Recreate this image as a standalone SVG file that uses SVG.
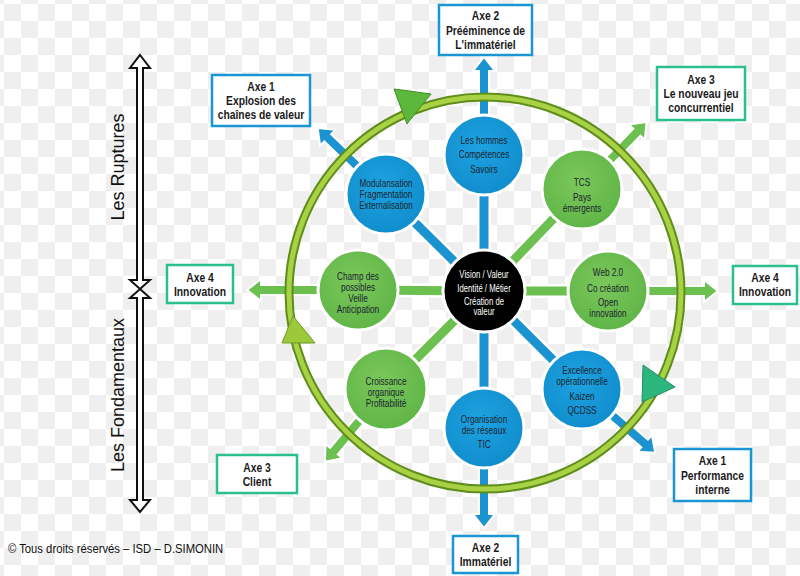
<svg xmlns="http://www.w3.org/2000/svg" width="800" height="576" viewBox="0 0 800 576">
<defs>
<pattern id="chk" width="34" height="34" patternUnits="userSpaceOnUse" x="4" y="4">
<rect width="34" height="34" fill="#ffffff"/>
<rect width="17" height="17" fill="#efefef"/>
<rect x="17" y="17" width="17" height="17" fill="#efefef"/>
</pattern>
<radialGradient id="gBlue" cx="0.45" cy="0.4" r="0.65">
<stop offset="0" stop-color="#1fa3e0"/><stop offset="1" stop-color="#0f8bcb"/>
</radialGradient>
<radialGradient id="gGreen" cx="0.45" cy="0.4" r="0.65">
<stop offset="0" stop-color="#7cc75b"/><stop offset="1" stop-color="#5eb446"/>
</radialGradient>
<style>
.ttl{font-family:"Liberation Sans",Arial,sans-serif;font-weight:bold;font-size:12px;fill:#1a1a1a;text-anchor:middle}
.nt{font-family:"Liberation Sans",Arial,sans-serif;font-size:10.5px;fill:#1a2430;text-anchor:middle}
.ct{font-family:"Liberation Sans",Arial,sans-serif;font-size:10.5px;fill:#ffffff;text-anchor:middle}
.bb{fill:#ffffff;stroke:#1a96d4;stroke-width:2.5}
.bg{fill:#ffffff;stroke:#2cbf8e;stroke-width:2.5}
.nb{fill:url(#gBlue);stroke:#ffffff;stroke-width:3}
.ng{fill:url(#gGreen);stroke:#ffffff;stroke-width:3}
.sw{stroke:#ffffff;stroke-width:14}
.sb{stroke:#1a93d0;stroke-width:9}
.sg{stroke:#6cc04f;stroke-width:9}
.ab{fill:#1a93d0;stroke:#ffffff;stroke-width:2;stroke-linejoin:miter}
.ag{fill:#6cc04f;stroke:#ffffff;stroke-width:2;stroke-linejoin:miter}
.side{font-family:"Liberation Sans",Arial,sans-serif;font-size:18px;fill:#111111;text-anchor:middle}
.dbl{fill:#ffffff;stroke:#111111;stroke-width:2;stroke-linejoin:miter}
</style>
</defs>
<rect width="800" height="576" fill="url(#chk)"/>

<g id="connectors">
<g id="spokes">
<line x1="484" y1="291" x2="484" y2="155" class="sw"/>
<line x1="484" y1="291" x2="386" y2="194" class="sw"/>
<line x1="484" y1="291" x2="582" y2="189" class="sw"/>
<line x1="484" y1="291" x2="358" y2="290" class="sw"/>
<line x1="484" y1="291" x2="608" y2="291" class="sw"/>
<line x1="484" y1="291" x2="386" y2="389" class="sw"/>
<line x1="484" y1="291" x2="484" y2="428" class="sw"/>
<line x1="484" y1="291" x2="582" y2="389" class="sw"/>
<line x1="484" y1="291" x2="484" y2="155" class="sb"/>
<line x1="484" y1="291" x2="386" y2="194" class="sb"/>
<line x1="484" y1="291" x2="582" y2="189" class="sg"/>
<line x1="484" y1="291" x2="358" y2="290" class="sg"/>
<line x1="484" y1="291" x2="608" y2="291" class="sg"/>
<line x1="484" y1="291" x2="386" y2="389" class="sg"/>
<line x1="484" y1="291" x2="484" y2="428" class="sb"/>
<line x1="484" y1="291" x2="582" y2="389" class="sb"/>
</g>
<g id="outer-arrows">
<polygon class="ab" transform="translate(484,155) rotate(-90)" points="38,-5 84,-5 84,-11 98,0 84,11 84,5 38,5"/>
<polygon class="ab" transform="translate(386,194) rotate(-136)" points="38,-5 81,-5 81,-11 95,0 81,11 81,5 38,5"/>
<polygon class="ag" transform="translate(582,189) rotate(-46)" points="38,-5 79,-5 79,-11 93,0 79,11 79,5 38,5"/>
<polygon class="ag" transform="translate(358,290) rotate(180)" points="38,-5 97,-5 97,-11 111,0 97,11 97,5 38,5"/>
<polygon class="ag" transform="translate(608,291)" points="38,-5 96,-5 96,-11 110,0 96,11 96,5 38,5"/>
<polygon class="ag" transform="translate(386,389) rotate(130)" points="38,-5 81,-5 81,-11 95,0 81,11 81,5 38,5"/>
<polygon class="ab" transform="translate(484,428) rotate(90)" points="38,-5 86,-5 86,-11 100,0 86,11 86,5 38,5"/>
<polygon class="ab" transform="translate(582,389) rotate(41)" points="38,-5 83,-5 83,-11 97,0 83,11 83,5 38,5"/>
</g>
<g id="cycle">
<circle cx="485" cy="293" r="196" fill="none" stroke="#5f8d1c" stroke-width="9"/>
<circle cx="485" cy="293" r="196" fill="none" stroke="#a8d244" stroke-width="5"/>
<polygon points="394,89 431,94 407,124" fill="#5cb83a" stroke="#3f8f24" stroke-width="1"/>
<polygon points="282,343 293,316 315,343" fill="#9cc93a" stroke="#6f9a22" stroke-width="1"/>
<polygon points="643,365 675,387 642,402" fill="#2db57e" stroke="#1f9162" stroke-width="1"/>
</g>
<g id="side-arrows">
<polygon class="dbl" points="140,55 150,68 143,68 143,280 150,280 140,289 130,280 137,280 137,68 130,68"/>
<polygon class="dbl" points="140,289 150,298 143,298 143,500 150,500 140,512 130,500 137,500 137,298 130,298"/>
</g>
</g>

<g id="node-center">
<circle cx="484" cy="291" r="41" fill="#000000" stroke="#ffffff" stroke-width="3"/>
<g transform="translate(484,0) scale(0.74,1) translate(-484,0)">
<text class="ct" x="484" y="278">Vision / Valeur</text>
<text class="ct" x="484" y="292">Identité / Métier</text>
<text class="ct" x="484" y="305">Création de</text>
<text class="ct" x="484" y="315">valeur</text>
</g>
</g>
<g id="node-hommes">
<circle cx="484" cy="155" r="40" class="nb"/>
<g transform="translate(484,0) scale(0.78,1) translate(-484,0)">
<text class="nt" x="484" y="144">Les hommes</text>
<text class="nt" x="484" y="158">Compétences</text>
<text class="nt" x="484" y="173">Savoirs</text>
</g>
</g>
<g id="node-modul">
<circle cx="386" cy="194" r="40" class="nb"/>
<g transform="translate(386,0) scale(0.78,1) translate(-386,0)">
<text class="nt" x="386" y="187">Modulansation</text>
<text class="nt" x="386" y="198">Fragmentation</text>
<text class="nt" x="386" y="209">Externalisation</text>
</g>
</g>
<g id="node-tcs">
<circle cx="582" cy="189" r="40" class="ng"/>
<g transform="translate(582,0) scale(0.78,1) translate(-582,0)">
<text class="nt" x="582" y="186">TCS</text>
<text class="nt" x="582" y="201">Pays</text>
<text class="nt" x="582" y="212">émergents</text>
</g>
</g>
<g id="node-champ">
<circle cx="358" cy="290" r="40" class="ng"/>
<g transform="translate(358,0) scale(0.78,1) translate(-358,0)">
<text class="nt" x="358" y="280">Champ des</text>
<text class="nt" x="358" y="291">possibles</text>
<text class="nt" x="358" y="302">Veille</text>
<text class="nt" x="358" y="313">Anticipation</text>
</g>
</g>
<g id="node-web">
<circle cx="608" cy="291" r="40" class="ng"/>
<g transform="translate(608,0) scale(0.78,1) translate(-608,0)">
<text class="nt" x="608" y="276">Web 2.0</text>
<text class="nt" x="608" y="292">Co création</text>
<text class="nt" x="608" y="306">Open</text>
<text class="nt" x="608" y="317">innovation</text>
</g>
</g>
<g id="node-croissance">
<circle cx="386" cy="389" r="41" class="ng"/>
<g transform="translate(386,0) scale(0.78,1) translate(-386,0)">
<text class="nt" x="386" y="385">Croissance</text>
<text class="nt" x="386" y="396">organique</text>
<text class="nt" x="386" y="407">Profitabilité</text>
</g>
</g>
<g id="node-organisation">
<circle cx="484" cy="428" r="40" class="nb"/>
<g transform="translate(484,0) scale(0.78,1) translate(-484,0)">
<text class="nt" x="484" y="423">Organisation</text>
<text class="nt" x="484" y="434">des réseaux</text>
<text class="nt" x="484" y="448">TIC</text>
</g>
</g>
<g id="node-excellence">
<circle cx="582" cy="389" r="40" class="nb"/>
<g transform="translate(582,0) scale(0.78,1) translate(-582,0)">
<text class="nt" x="582" y="374">Excellence</text>
<text class="nt" x="582" y="385">opérationnelle</text>
<text class="nt" x="582" y="400">Kaizen</text>
<text class="nt" x="582" y="414">QCDSS</text>
</g>
</g>

<g id="box-axe2-top">
<rect x="439" y="5" width="93" height="50" class="bb"/>
<g transform="translate(485.5,0) scale(0.86,1) translate(-485.5,0)">
<text class="ttl" x="485.5" y="20">Axe 2</text>
<text class="ttl" x="485.5" y="35">Prééminence de</text>
<text class="ttl" x="485.5" y="49">L'immatériel</text>
</g>
</g>
<g id="box-axe1-top">
<rect x="212" y="75" width="98" height="51" class="bb"/>
<g transform="translate(261,0) scale(0.86,1) translate(-261,0)">
<text class="ttl" x="261" y="91">Axe 1</text>
<text class="ttl" x="261" y="105">Explosion des</text>
<text class="ttl" x="261" y="119">chaînes de valeur</text>
</g>
</g>
<g id="box-axe3-top">
<rect x="657" y="67" width="88" height="53" class="bg"/>
<g transform="translate(701,0) scale(0.86,1) translate(-701,0)">
<text class="ttl" x="701" y="84">Axe 3</text>
<text class="ttl" x="701" y="98">Le nouveau jeu</text>
<text class="ttl" x="701" y="112">concurrentiel</text>
</g>
</g>
<g id="box-axe4-left">
<rect x="167" y="265" width="66" height="38" class="bg"/>
<g transform="translate(200,0) scale(0.86,1) translate(-200,0)">
<text class="ttl" x="200" y="282">Axe 4</text>
<text class="ttl" x="200" y="296">Innovation</text>
</g>
</g>
<g id="box-axe4-right">
<rect x="733" y="266" width="64" height="38" class="bg"/>
<g transform="translate(765,0) scale(0.86,1) translate(-765,0)">
<text class="ttl" x="765" y="282">Axe 4</text>
<text class="ttl" x="765" y="296">Innovation</text>
</g>
</g>
<g id="box-axe3-client">
<rect x="217" y="455" width="80" height="38" class="bg"/>
<g transform="translate(257,0) scale(0.86,1) translate(-257,0)">
<text class="ttl" x="257" y="472">Axe 3</text>
<text class="ttl" x="257" y="486">Client</text>
</g>
</g>
<g id="box-axe2-bottom">
<rect x="453" y="536" width="65" height="37" class="bb"/>
<g transform="translate(485.5,0) scale(0.86,1) translate(-485.5,0)">
<text class="ttl" x="485.5" y="552">Axe 2</text>
<text class="ttl" x="485.5" y="566">Immatériel</text>
</g>
</g>
<g id="box-axe1-bottom">
<rect x="674" y="449" width="77" height="52" class="bb"/>
<g transform="translate(712.5,0) scale(0.86,1) translate(-712.5,0)">
<text class="ttl" x="712.5" y="465">Axe 1</text>
<text class="ttl" x="712.5" y="480">Performance</text>
<text class="ttl" x="712.5" y="494">interne</text>
</g>
</g>

<text class="side" transform="translate(124,167) rotate(-90)">Les Ruptures</text>
<text class="side" transform="translate(124,395) rotate(-90)">Les Fondamentaux</text>
<text x="8" y="553" font-family="Liberation Sans, Arial, sans-serif" font-size="12" fill="#111111" transform="translate(8,0) scale(0.94,1) translate(-8,0)">© Tous droits réservés – ISD – D.SIMONIN</text>
</svg>
